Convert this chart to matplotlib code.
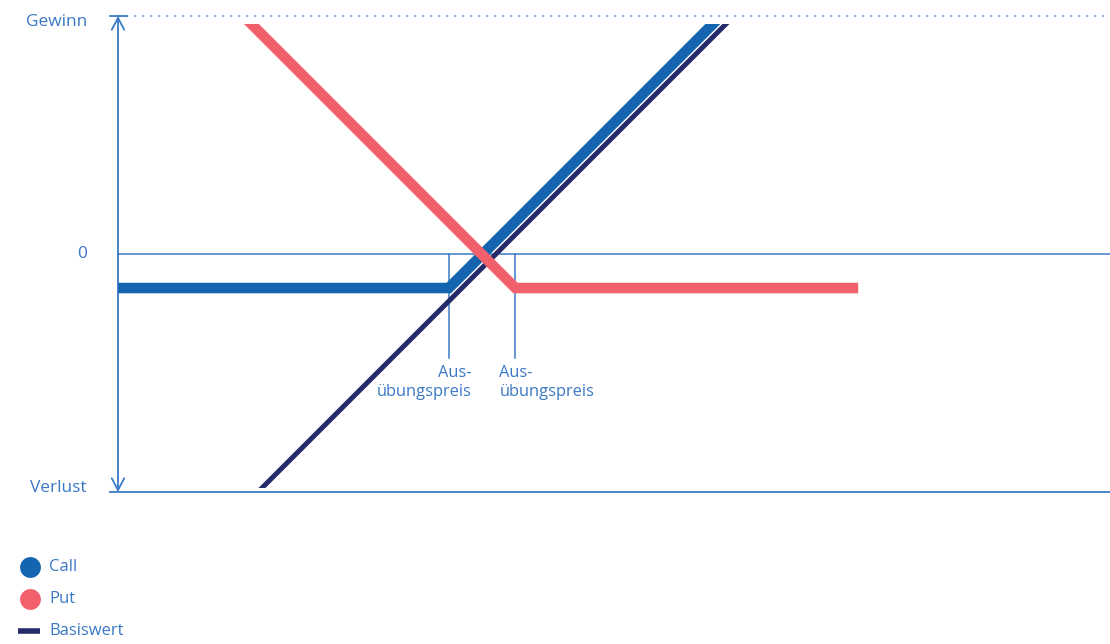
import matplotlib
matplotlib.use("Agg")
import matplotlib.pyplot as plt
from matplotlib.patches import Rectangle

plt.rcParams['font.family'] = ['Open Sans', 'DejaVu Sans']

# ---- data (units: profit scale, Gewinn = +100, Verlust = -100) ----
y_ticks = [100, 0, -100]
y_labels = ["Gewinn", "0", "Verlust"]

call_x = [0, 139, 255]
call_y = [-14.3, -14.3, 101.7]

put_x = [50, 167, 311]
put_y = [102.7, -14.3, -14.3]

basis_x = [55, 265]
basis_y = [-103.8, 106.2]

strikes = [139, 167]
strike_label = "Aus-\nübungspreis"

legend_names = ["Call", "Put", "Basiswert"]

# ---- styling ----
C_CALL = "#1464b0"
C_PUT = "#f2606c"
C_BASIS = "#252b6a"
C_AXIS = "#3a7ac4"
C_TEXT = "#3a78c4"
C_DOT = "#8fb4e0"

PX = 2.38  # pixels per unit
fig = plt.figure(figsize=(11.10, 6.44), dpi=100)
ax = fig.add_axes([0, 0, 1, 1])
ax.set_xlim(-118 / PX, (1110 - 118) / PX)
ax.set_ylim((254 - 644) / PX, 254 / PX)
ax.axis("off")

clip = Rectangle((-10, -98.3), 400, 96.6 + 98.3, transform=ax.transData,
                 facecolor="none", edgecolor="none")
ax.add_patch(clip)

xr = (1110 - 118) / PX

# axes lines
ax.plot([0, xr], [0, 0], color=C_AXIS, lw=1.1, zorder=1)
ax.plot([-8 / PX, xr], [-100, -100], color=C_AXIS, lw=1.3, zorder=1)
ax.plot([0, xr], [100, 100], color=C_DOT, lw=1.6, ls=(0, (1.0, 2.6)), zorder=1)
ax.plot([-8 / PX, 9 / PX], [100, 100], color=C_AXIS, lw=1.3, zorder=2)
ax.annotate("", xy=(0, 100), xytext=(0, -100),
            arrowprops=dict(arrowstyle="<->,head_length=0.85,head_width=0.45",
                            color=C_AXIS, lw=1.3, shrinkA=0, shrinkB=0))

# strike lines
for k in strikes:
    ax.plot([k, k], [0, -43.7], color=C_AXIS, lw=1.1, zorder=1)

ax.text(strikes[0] + 23 / PX, -46.5, strike_label, ha="right", va="top",
        multialignment="right", color=C_TEXT, fontsize=11.8, linespacing=1.3)
ax.text(strikes[1] - 16 / PX, -46.5, strike_label, ha="left", va="top",
        multialignment="left", color=C_TEXT, fontsize=11.8, linespacing=1.3)

# y labels
for yv, lab in zip(y_ticks, y_labels):
    yy = {100: 97.5, 0: 0, -100: -98.3}[yv]
    ax.text(-31 / PX, yy, lab, ha="right", va="center", color=C_TEXT, fontsize=12.4)

# series
l1, = ax.plot(basis_x, basis_y, color=C_BASIS, lw=3.6, solid_capstyle="butt", zorder=3)
l2, = ax.plot(call_x, call_y, color=C_CALL, lw=7.6, solid_capstyle="butt",
              solid_joinstyle="miter", zorder=4)
l3, = ax.plot(put_x, put_y, color=C_PUT, lw=7.6, solid_capstyle="butt",
              solid_joinstyle="miter", zorder=5)
for ln in (l1, l2, l3):
    ln.set_clip_path(clip)

# legend (manual)
lx = (30 - 118) / PX
ly = [(254 - 567) / PX, (254 - 599) / PX, (254 - 631) / PX]
ax.plot([lx], [ly[0]], "o", ms=15, color=C_CALL, mec="none", clip_on=False)
ax.plot([lx], [ly[1]], "o", ms=15, color=C_PUT, mec="none", clip_on=False)
ax.plot([lx - 12 / PX, lx + 10 / PX], [ly[2], ly[2]], color=C_BASIS, lw=4, clip_on=False,
        solid_capstyle="butt")
for yv, name in zip(ly, legend_names):
    ax.text((49 - 118) / PX, yv, name, ha="left", va="center", color=C_TEXT, fontsize=12)

fig.savefig("out.png", dpi=100)
